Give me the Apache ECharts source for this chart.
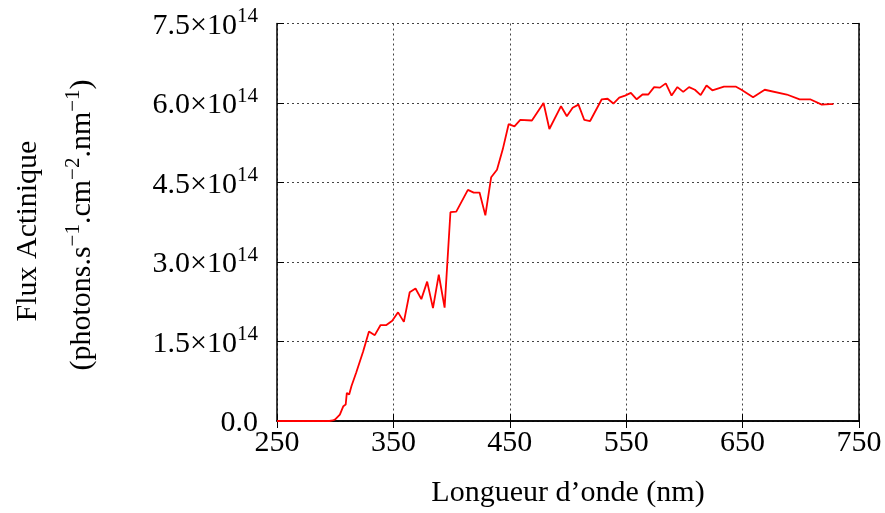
<!DOCTYPE html>
<html>
<head>
<meta charset="utf-8">
<script src="https://cdn.jsdelivr.net/npm/echarts@6/dist/echarts.min.js"></script>
<style>html,body{margin:0;padding:0;background:#fff}#c{width:885px;height:513px}</style>
</head>
<body>
<div id="c"></div>
<script>
const wavelengths = [250,280,290,295,298,300,304,307,309,310,312,314,318,324,329,334,339,344,349,354,359,364,369,374,379,384,389,394,399,404,414,419,424,429,434,439,444,449,454,459,469,479,484,494,499,504,509,514,519,529,534,539,544,549,554,559,564,569,574,579,584,589,594,599,604,609,614,619,624,634,644,649,659,669,688,699,708,718,725,728];
const fluxE14 = [0,0,0,0,0.01,0.03,0.12,0.28,0.31,0.53,0.5,0.66,0.91,1.31,1.69,1.62,1.81,1.81,1.89,2.05,1.87,2.43,2.5,2.3,2.63,2.13,2.76,2.14,3.94,3.95,4.36,4.31,4.31,3.88,4.6,4.74,5.13,5.6,5.56,5.68,5.67,6.0,5.51,5.94,5.75,5.91,5.97,5.68,5.66,6.07,6.08,5.99,6.1,6.14,6.19,6.07,6.16,6.16,6.3,6.29,6.37,6.14,6.3,6.21,6.3,6.25,6.15,6.33,6.24,6.31,6.31,6.25,6.11,6.25,6.16,6.07,6.07,5.97,5.98,5.98];
const xTicks = [250,350,450,550,650,750];
const yTicksE14 = [0,1.5,3.0,4.5,6.0,7.5];
const xTitle = "Longueur d\u2019onde (nm)";
const yTitle1 = "Flux Actinique";

const FONT = "Liberation Serif";
const FS = 30;
const data = wavelengths.map((w,i)=>[w, fluxE14[i]*1e14]);

const chart = echarts.init(document.getElementById('c'), null, {renderer:'canvas'});
const gridStyle = {show:true, lineStyle:{type:[2,3], color:'#444', width:1}};
const supRich = {
  b:{fontFamily:FONT, fontSize:FS, color:'#000', verticalAlign:'bottom', lineHeight:35},
  s:{fontFamily:FONT, fontSize:21, color:'#000', verticalAlign:'top', lineHeight:35}
};
chart.setOption({
  animation:false,
  grid:{left:277, right:26, top:23.5, bottom:90, containLabel:false},
  xAxis:[{
    type:'value', min:250, max:750, interval:100,
    axisLine:{show:true, lineStyle:{color:'#000', width:1.5}},
    axisTick:{show:true, inside:true, length:7, lineStyle:{color:'#000', width:1}},
    axisLabel:{fontFamily:FONT, fontSize:FS, color:'#000', margin:7},
    splitLine:gridStyle,
    name:xTitle, nameLocation:'middle', nameGap:57,
    nameTextStyle:{fontFamily:FONT, fontSize:FS, color:'#000'}
  },{
    type:'value', position:'top', min:250, max:750, interval:100,
    axisLine:{show:true, lineStyle:{color:'#000', width:1.5}},
    axisTick:{show:true, inside:true, length:7, lineStyle:{color:'#000', width:1}},
    axisLabel:{show:false}, splitLine:{show:false}
  }],
  yAxis:[{
    type:'value', min:0, max:7.5e14, interval:1.5e14,
    axisLine:{show:true, lineStyle:{color:'#000', width:1.5}},
    axisTick:{show:true, inside:true, length:7, lineStyle:{color:'#000', width:1}},
    axisLabel:{margin:19, formatter:function(v){
        const e = Math.round(v/1e13)/10;
        if (e===0) return '{b|0.0}';
        return '{b|'+e.toFixed(1)+'\u00d710}{s|14}';
      }, rich:supRich},
    splitLine:gridStyle
  },{
    type:'value', position:'right', min:0, max:7.5e14, interval:1.5e14,
    axisLine:{show:true, lineStyle:{color:'#000', width:1.5}},
    axisTick:{show:true, inside:true, length:7, lineStyle:{color:'#000', width:1}},
    axisLabel:{show:false}, splitLine:{show:false}
  }],
  graphic:[
    {type:'text', x:28, y:231, rotation:Math.PI/2, style:{
      text:yTitle1, fontFamily:FONT, fontSize:FS, fill:'#000', align:'center', verticalAlign:'middle'}},
    {type:'text', x:80, y:225, rotation:Math.PI/2, style:{
      text:'{b|(photons.s}{s|\u22121}{b|.cm}{s|\u22122}{b|.nm}{s|\u22121}{b|)}',
      rich:supRich, align:'center', verticalAlign:'middle'}}
  ],
  series:[{
    type:'line', data:data, xAxisIndex:0, yAxisIndex:0,
    showSymbol:false, symbol:'none',
    lineStyle:{color:'#ff0000', width:1.8},
    z:5
  }]
});
</script>
</body>
</html>
